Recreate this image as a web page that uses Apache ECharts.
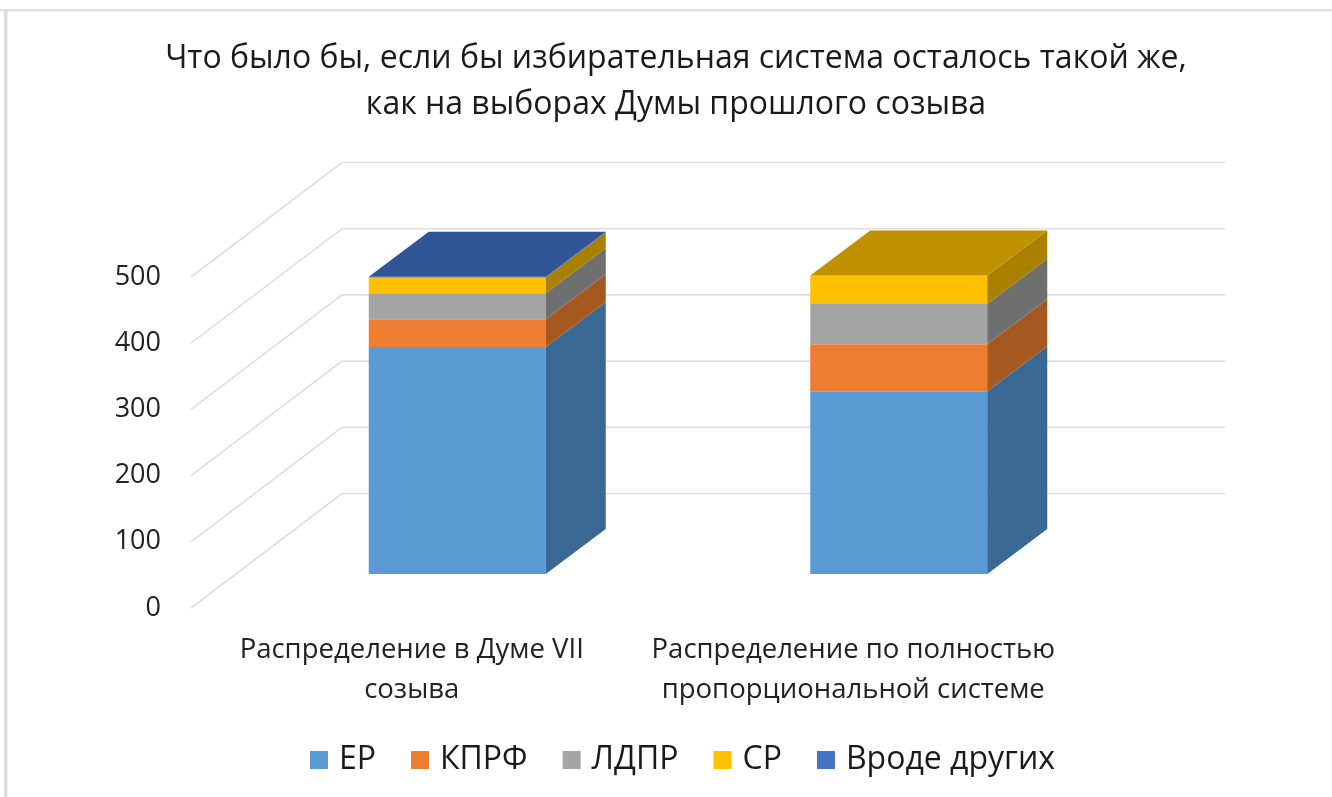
<!DOCTYPE html>
<html><head><meta charset="utf-8">
<style>html,body{margin:0;padding:0;background:#fff}#c{width:1332px;height:797px}</style>
<script src="https://cdn.jsdelivr.net/npm/echarts@6/dist/echarts.min.js"></script>
</head><body><div id="c"></div>
<script>
const categories = ['Распределение в Думе VII\nсозыва', 'Распределение по полностью\nпропорциональной системе'];
const yTicks = [0, 100, 200, 300, 400, 500];
const partyNames = ['ЕР', 'КПРФ', 'ЛДПР', 'СР', 'Вроде других'];
const er = [343, 276];
const kprf = [42, 71];
const ldpr = [39, 61];
const sr = [24, 43];
const others = [1, 0];
const partyValues = [er, kprf, ldpr, sr, others];
const frontColors = ['#5B9BD5', '#ED7D31', '#A5A5A5', '#FFC000', '#4472C4'];
const sideColors = ['#3A6A93', '#A5581F', '#6F6F6F', '#AA8000', '#2F5597'];
const topColors = ['#4A7CAB', '#BE5F20', '#808080', '#BF9000', '#2F5597'];

const FONT = '"Open Sans", sans-serif';
const WALL = [151, -114.5];     // depth of the floor, front edge to back wall
const BAR_SHIFT = [45.5, -34];  // bar's front face sits this far into the floor
const BAR_DEPTH = [60, -45];    // bar's own depth
const BAR_FRACTION = 177 / 441.5;

function wallItem(params, api) {
  const cs = params.coordSys;
  const y = api.coord([0, api.value(0)])[1];
  const x0 = cs.x;
  return {
    type: 'polyline',
    silent: true,
    shape: { points: [[x0, y], [x0 + WALL[0], y + WALL[1]], [x0 + cs.width + WALL[0], y + WALL[1]]] },
    style: { stroke: '#DEDEDE', lineWidth: 1.6, fill: null }
  };
}

function barItem(idx) {
  return function (params, api) {
    const cat = api.value(0), base = api.value(1), val = api.value(2);
    if (!val) return { type: 'group', children: [] };
    const pLow = api.coord([cat, base]);
    const pHigh = api.coord([cat, base + val]);
    const w = api.size([1, 0])[0] * BAR_FRACTION;
    const x0 = pLow[0] - w / 2 + BAR_SHIFT[0], x1 = x0 + w;
    const y0 = pLow[1] + BAR_SHIFT[1], y1 = pHigh[1] + BAR_SHIFT[1];
    const dx = BAR_DEPTH[0], dy = BAR_DEPTH[1];
    const children = [
      { type: 'rect', shape: { x: x0, y: y1, width: w, height: y0 - y1 }, style: { fill: frontColors[idx] } },
      { type: 'polygon', shape: { points: [[x1, y0], [x1, y1], [x1 + dx, y1 + dy], [x1 + dx, y0 + dy]] }, style: { fill: sideColors[idx] } }
    ];
    const isTop = partyValues.slice(idx + 1).every(v => !v[cat]);
    if (isTop) {
      children.push({ type: 'polygon', shape: { points: [[x0, y1], [x0 + dx, y1 + dy], [x1 + dx, y1 + dy], [x1, y1]] }, style: { fill: topColors[idx] } });
    }
    return { type: 'group', children };
  };
}

const barSeries = partyNames.map((name, idx) => ({
  type: 'custom',
  name,
  coordinateSystem: 'cartesian2d',
  clip: false,
  z: 5 + idx,
  itemStyle: { color: frontColors[idx] },
  renderItem: barItem(idx),
  encode: { x: 0, y: 2 },
  data: categories.map((_, c) => {
    let base = 0;
    for (let k = 0; k < idx; k++) base += partyValues[k][c];
    return [c, base, partyValues[idx][c]];
  })
}));

const chart = echarts.init(document.getElementById('c'), null, { renderer: 'canvas' });
chart.setOption({
  animation: false,
  backgroundColor: '#fff',
  title: {
    text: 'Что было бы, если бы избирательная система осталось такой же,\nкак на выборах Думы прошлого созыва',
    left: 671, top: 31, textAlign: 'center',
    textStyle: { fontFamily: FONT, fontSize: 32, fontWeight: 'normal', color: '#1a1a1a', lineHeight: 46 }
  },
  legend: {
    data: partyNames, left: 305, top: 739, icon: 'rect',
    itemWidth: 18, itemHeight: 18, itemGap: 35,
    textStyle: { fontFamily: FONT, fontSize: 32, color: '#1a1a1a', padding: [0, 0, 0, 6] }
  },
  grid: { left: 191, top: 277, width: 883, height: 331 },
  xAxis: {
    type: 'category', data: categories,
    axisLine: { show: false }, axisTick: { show: false }, splitLine: { show: false },
    axisLabel: { fontFamily: FONT, fontSize: 27.5, color: '#222', lineHeight: 40, margin: 22, interval: 0 }
  },
  yAxis: {
    type: 'value', min: 0, max: 500, interval: 100,
    axisLine: { show: false }, axisTick: { show: false }, splitLine: { show: false },
    axisLabel: { fontFamily: FONT, fontSize: 27, color: '#222', margin: 30, padding: [1, 0, 0, 0] }
  },
  graphic: [
    { type: 'rect', silent: true, shape: { x: 0, y: 9, width: 1332, height: 2.5 }, style: { fill: '#E0E0E0' } },
    { type: 'rect', silent: true, shape: { x: 4, y: 10, width: 3.5, height: 787 }, style: { fill: '#DCDCDC' } }
  ],
  series: [{
    type: 'custom', name: 'wall', coordinateSystem: 'cartesian2d', clip: false, silent: true, z: 1,
    renderItem: wallItem, encode: { y: 0 },
    data: yTicks.map(v => [v])
  }].concat(barSeries)
});
</script></body></html>
